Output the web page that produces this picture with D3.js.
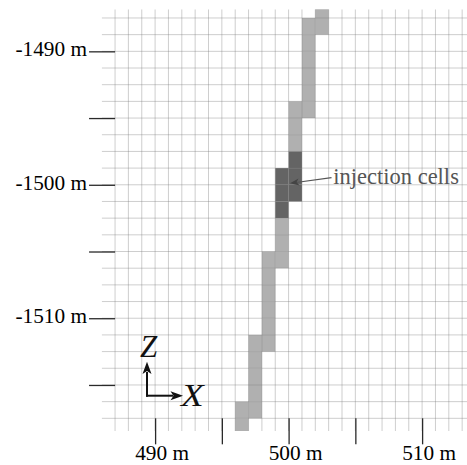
<!DOCTYPE html>
<html>
<head>
<meta charset="utf-8">
<script src="https://cdn.jsdelivr.net/npm/d3@7"></script>
<style>
  html, body { margin: 0; padding: 0; background: #fff; }
  svg { display: block; }
</style>
</head>
<body>
<svg id="chart" width="467" height="465"></svg>
<script>
// ---- data ----
const cellX = [502, 502, 501, 501, 501, 501, 501, 501, 500, 500, 500, 500, 500, 500, 499, 499, 499, 499, 499, 499, 498, 498, 498, 498, 498, 498, 497, 497, 497, 497, 497, 496, 496];
const cellZTop = [-1486.25, -1487.5, -1487.5, -1488.75, -1490, -1491.25, -1492.5, -1493.75, -1493.75, -1495, -1496.25, -1497.5, -1498.75, -1500, -1498.75, -1500, -1501.25, -1502.5, -1503.75, -1505, -1505, -1506.25, -1507.5, -1508.75, -1510, -1511.25, -1511.25, -1512.5, -1513.75, -1515, -1516.25, -1516.25, -1517.5];
const cellType = ["r","r","r","r","r","r","r","r","r","r","r","i","i","i","i","i","i","r","r","r","r","r","r","r","r","r","r","r","r","r","r","r","r"];
const cellDx = 1;      // m
const cellDz = 1.25;   // m
const xTicks = [490, 495, 500, 505, 510];
const zTicks = [-1490, -1495, -1500, -1505, -1510, -1515];
const annotationText = "injection cells";

// ---- scales ----
const svg = d3.select("#chart");
const x = d3.scaleLinear().domain([486, 513.4]).range([101.7, 467.5]);
const y = d3.scaleLinear().domain([-1518.45, -1486.85]).range([431, 9.3]);

const defs = svg.append("defs");
defs.append("clipPath").attr("id", "plotclip")
  .append("rect")
  .attr("x", x(486)).attr("y", y(-1486.85))
  .attr("width", x(513.4) - x(486)).attr("height", y(-1518.45) - y(-1486.85));

const plot = svg.append("g").attr("clip-path", "url(#plotclip)");

// cells
const cells = cellX.map((cx, i) => ({ x: cx, z: cellZTop[i], t: cellType[i] }));
plot.selectAll("rect.cell").data(cells).join("rect")
  .attr("class", "cell")
  .attr("x", d => x(d.x))
  .attr("y", d => y(d.z))
  .attr("width", d => x(d.x + cellDx) - x(d.x))
  .attr("height", d => y(d.z - cellDz) - y(d.z))
  .attr("fill", d => d.t === "i" ? "#646464" : "#b0b0b0");

// grid
const vLines = d3.range(487, 514, 1);
const hLines = d3.range(0, 25).map(k => -1487.5 - k * cellDz);
plot.selectAll("line.vg").data(vLines).join("line")
  .attr("x1", d => x(d)).attr("x2", d => x(d))
  .attr("y1", y(-1486.85)).attr("y2", y(-1518.45))
  .attr("stroke", "#777").attr("stroke-opacity", 0.36).attr("stroke-width", 1);
plot.selectAll("line.hg").data(hLines).join("line")
  .attr("y1", d => y(d)).attr("y2", d => y(d))
  .attr("x1", x(486)).attr("x2", 467)
  .attr("stroke", "#777").attr("stroke-opacity", 0.36).attr("stroke-width", 1);

// axes
const fontFam = "'Liberation Serif', 'Times New Roman', serif";
const yAxis = d3.axisLeft(y).tickValues(zTicks).tickSize(26).tickPadding(2)
  .tickFormat(d => d % 10 === 0 ? `${d} m` : "");
const gy = svg.append("g").attr("transform", `translate(${x(487)},0)`).call(yAxis);
gy.select(".domain").remove();
gy.selectAll(".tick line").attr("stroke", "#2a2a2a").attr("stroke-width", 1.3);
gy.selectAll(".tick text").attr("font-family", fontFam).attr("font-size", 21.3)
  .attr("fill", "#000").attr("dy", "0.21em");

const xAxis = d3.axisBottom(x).tickValues(xTicks).tickSize(26).tickPadding(1)
  .tickFormat(d => d % 10 === 0 ? `${d} m` : "");
const gx = svg.append("g").attr("transform", `translate(0,${y(-1517.5)})`).call(xAxis);
gx.select(".domain").remove();
gx.selectAll(".tick line").attr("stroke", "#2a2a2a").attr("stroke-width", 1.3);
gx.selectAll(".tick text").attr("font-family", fontFam).attr("font-size", 21.3)
  .attr("fill", "#000").attr("dx", 6.5);

// annotation
const ann = svg.append("g");
ann.append("line")
  .attr("x1", 331.5).attr("y1", 177.7).attr("x2", 296).attr("y2", 182.5)
  .attr("stroke", "#555").attr("stroke-width", 1.2);
ann.append("path")
  .attr("d", "M290,183.3 L298.5,178.6 L296.5,182.2 L299.6,185.6 Z")
  .attr("fill", "#444");
ann.append("text")
  .attr("x", 333.3).attr("y", 184)
  .attr("font-family", fontFam).attr("font-size", 22.5)
  .attr("fill", "#555")
  .text(annotationText);

// axis triad
const tri = svg.append("g");
const ox = 147, oy = 395.7;
tri.append("line").attr("x1", ox).attr("y1", oy + 1).attr("x2", ox).attr("y2", 372)
  .attr("stroke", "#111").attr("stroke-width", 2);
tri.append("line").attr("x1", ox - 1).attr("y1", oy).attr("x2", 173).attr("y2", oy)
  .attr("stroke", "#111").attr("stroke-width", 2);
tri.append("path").attr("d", `M${ox},361.7 L${ox + 4.5},374 L${ox},371 L${ox - 4.5},374 Z`).attr("fill", "#111");
tri.append("path").attr("d", `M183,${oy} L170.5,${oy - 4.5} L173.5,${oy} L170.5,${oy + 4.5} Z`).attr("fill", "#111");
tri.append("text").attr("x", 140).attr("y", 357)
  .attr("font-family", fontFam).attr("font-style", "italic").attr("font-size", 31)
  .attr("fill", "#111").text("Z");
tri.append("text").attr("x", 181).attr("y", 406.5)
  .attr("font-family", fontFam).attr("font-style", "italic").attr("font-size", 31)
  .attr("fill", "#111")
  .attr("transform", "translate(181,0) scale(1.2,1) translate(-181,0)")
  .text("X");
</script>
</body>
</html>
